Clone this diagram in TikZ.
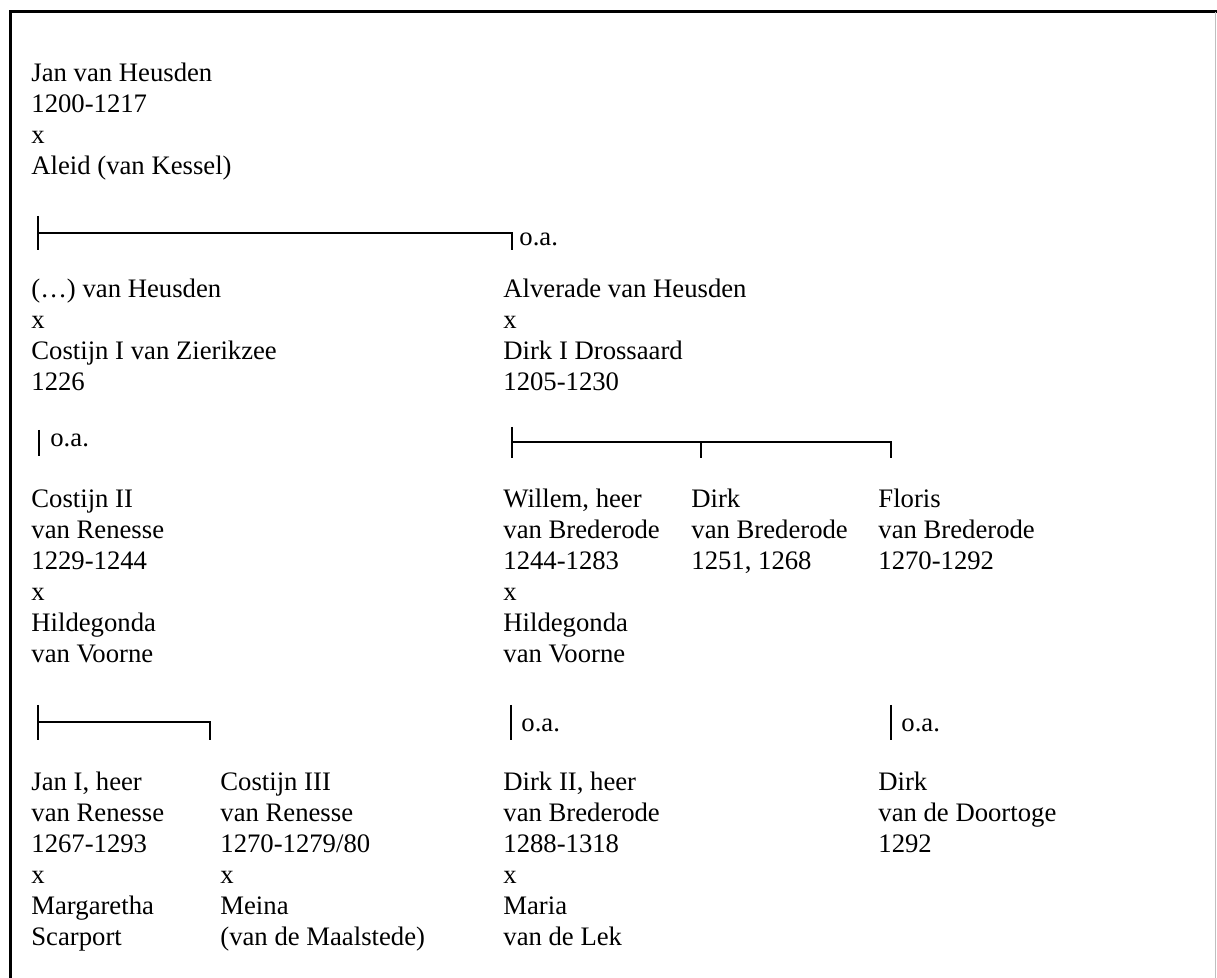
\documentclass[tikz,border=0pt]{standalone}
\usepackage{fontspec}
\setmainfont{Liberation Serif}
\usetikzlibrary{calc}

\begin{document}
\begin{tikzpicture}[x=0.5pt,y=-0.5pt,
	person/.style={anchor=north west,inner sep=0pt,align=left,
		font=\fontsize{13.35}{15.5}\selectfont,execute at begin node=\strut},
	oa/.style={anchor=base west,inner sep=0pt,font=\fontsize{13.35}{15.5}\selectfont},
	bar/.style={line width=1pt}]

\useasboundingbox (0,0) rectangle (1217,978);

% frame
\draw[line width=1.5pt] (10,978)--(10,12)--(1217,12);
\draw[line width=0.3pt,color=lightgray] (1215,12)--(1215,978);

% persons
\node[person] (jan) at (31,63) {Jan van Heusden\\1200-1217\\x\\Aleid (van Kessel)};

\node[person] (onbekend) at (31,279) {(…) van Heusden\\x\\Costijn I van Zierikzee\\1226};
\node[person] (alverade) at (503,279) {Alverade van Heusden\\x\\Dirk I Drossaard\\1205-1230};

\node[person] (costijn2) at (31,489) {Costijn II\\van Renesse\\1229-1244\\x\\Hildegonda\\van Voorne};
\node[person] (willem) at (503,489) {Willem, heer\\van Brederode\\1244-1283\\x\\Hildegonda\\van Voorne};
\node[person] (dirk) at (691,489) {Dirk\\van Brederode\\1251, 1268};
\node[person] (floris) at (878,489) {Floris\\van Brederode\\1270-1292};

\node[person] (jan1) at (31,772) {Jan I, heer\\van Renesse\\1267-1293\\x\\Margaretha\\Scarport};
\node[person] (costijn3) at (220,772) {Costijn III\\van Renesse\\1270-1279/80\\x\\Meina\\(van de Maalstede)};
\node[person] (dirk2) at (503,772) {Dirk II, heer\\van Brederode\\1288-1318\\x\\Maria\\van de Lek};
\node[person] (doortoge) at (878,772) {Dirk\\van de Doortoge\\1292};

% first generation
\coordinate (g1l) at (38,233);
\coordinate (g1r) at (512,233);
\draw[bar] ($(g1l)+(0,-17)$)--($(g1l)+(0,17)$);
\draw[bar] (g1l)--(g1r)--++(0,17);
\node[oa] (oa1) at ($(g1r)+(7,13)$) {o.a.};

% second generation
\coordinate (g2a) at (39,430);
\draw[bar] (g2a)--++(0,26);
\node[oa] (oa2) at ($(g2a)+(11,17)$) {o.a.};

\coordinate (g2l) at (512,442);
\coordinate (g2m) at (701,442);
\coordinate (g2r) at (891,442);
\draw[bar] ($(g2l)+(0,-15)$)--($(g2l)+(0,16)$);
\draw[bar] (g2l)--(g2r)--++(0,16);
\draw[bar] (g2m)--++(0,16);

% third generation
\coordinate (g3l) at (38,722);
\coordinate (g3r) at (210,722);
\draw[bar] ($(g3l)+(0,-17)$)--($(g3l)+(0,18)$);
\draw[bar] (g3l)--(g3r)--++(0,18);

\foreach \x/\n in {511/b,891/c}{
	\coordinate (g3\n) at (\x,705);
	\draw[bar] (g3\n)--++(0,35);
	\node[oa] (oa3\n) at ($(g3\n)+(10,27)$) {o.a.};
}

\end{tikzpicture}
\end{document}
